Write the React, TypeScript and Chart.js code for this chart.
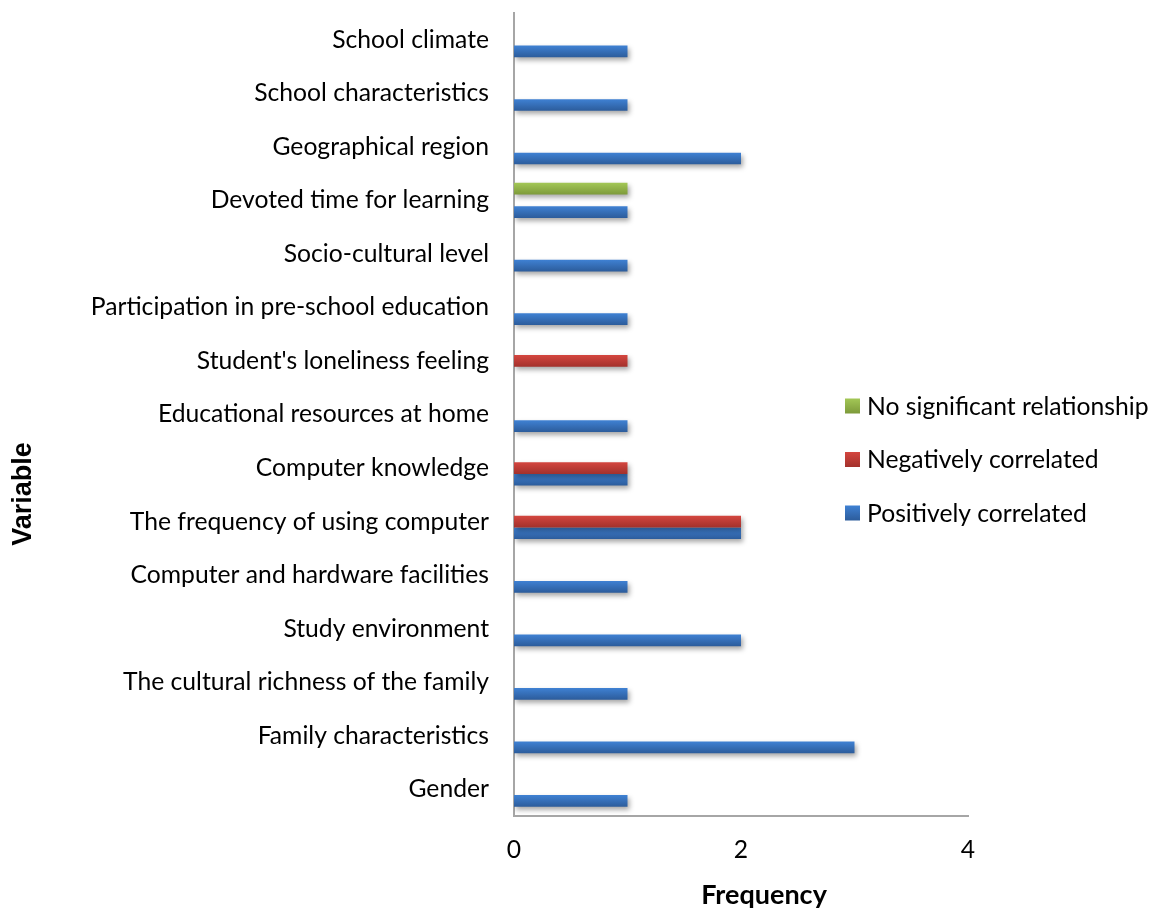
import { useEffect, useRef } from "react";
import { Chart, registerables } from "chart.js";

Chart.register(...registerables);

// Categories listed top to bottom
const categories = [
  "School climate",
  "School characteristics",
  "Geographical region",
  "Devoted time for learning",
  "Socio-cultural level",
  "Participation in pre-school education",
  "Student's loneliness feeling",
  "Educational resources at home",
  "Computer knowledge",
  "The frequency of using computer",
  "Computer and hardware facilities",
  "Study environment",
  "The cultural richness of the family",
  "Family characteristics",
  "Gender",
];

const noRelationship = [0, 0, 0, 1, 0, 0, 0, 0, 0, 0, 0, 0, 0, 0, 0];
const negativelyCorrelated = [0, 0, 0, 0, 0, 0, 1, 0, 1, 2, 0, 0, 0, 0, 0];
const positivelyCorrelated = [1, 1, 2, 1, 1, 1, 0, 1, 1, 2, 1, 2, 1, 3, 1];

const seriesNames = ["No significant relationship", "Negatively correlated", "Positively correlated"];
const xTickValues = [0, 2, 4];

// [top, bottom] gradient stops per series
const seriesColors: [string, string][] = [
  ["#a3c756", "#7d9a3a"],
  ["#d4463f", "#a3312c"],
  ["#3f81d3", "#2c5c9b"],
];

const FONT = "Lato";
const LABEL_SIZE = 24.7;
const CAT_PCT = 0.655;

function barGradient(top: string, bottom: string) {
  return (ctx: any) => {
    const chart = ctx.chart;
    const y = chart.scales && chart.scales.y;
    if (!y || ctx.type !== "data" || !chart.chartArea) return top;
    const center = y.getPixelForValue(ctx.dataIndex);
    const slot = y.height / categories.length;
    const n = chart.data.datasets.length;
    const thick = (slot * CAT_PCT) / n;
    const c = center + (ctx.datasetIndex - (n - 1) / 2) * thick;
    const g = chart.ctx.createLinearGradient(0, c - thick / 2, 0, c + thick / 2);
    g.addColorStop(0, top);
    g.addColorStop(1, bottom);
    return g;
  };
}

const barShadow = {
  id: "barShadow",
  beforeDatasetsDraw(chart: any) {
    const c = chart.ctx;
    c.save();
    c.shadowColor = "rgba(0,0,0,0.35)";
    c.shadowBlur = 5;
    c.shadowOffsetX = 2;
    c.shadowOffsetY = 3;
  },
  afterDatasetsDraw(chart: any) {
    chart.ctx.restore();
  },
};

// Axis titles and the legend block inside the plot
const decorations = {
  id: "decorations",
  afterDraw(chart: any) {
    const c = chart.ctx;
    const area = chart.chartArea;
    c.save();
    c.fillStyle = "#000";

    c.font = `bold 27px ${FONT}`;
    c.textAlign = "center";
    c.textBaseline = "middle";
    c.fillText("Frequency", (area.left + area.right) / 2 + 23, 895);

    c.save();
    c.translate(24, 494);
    c.rotate(-Math.PI / 2);
    c.font = "bold 27px 'Liberation Sans'";
    c.fillText("Variable", 0, 0);
    c.restore();

    const lx = area.right - 123;
    const ly0 = 406;
    const step = 53.5;
    c.textAlign = "left";
    c.font = `${LABEL_SIZE}px ${FONT}`;
    seriesNames.forEach((name, i) => {
      const cy = ly0 + i * step;
      const g = c.createLinearGradient(0, cy - 7.5, 0, cy + 7.5);
      g.addColorStop(0, seriesColors[i][0]);
      g.addColorStop(1, seriesColors[i][1]);
      c.fillStyle = g;
      c.fillRect(lx, cy - 7.5, 15, 15);
      c.fillStyle = "#000";
      c.fillText(name, lx + 22, cy + 1);
    });
    c.restore();
  },
};

export default function App() {
  const ref = useRef<HTMLCanvasElement>(null);

  useEffect(() => {
    const datasets = [noRelationship, negativelyCorrelated, positivelyCorrelated].map((data, i) => ({
      label: seriesNames[i],
      data,
      backgroundColor: barGradient(seriesColors[i][0], seriesColors[i][1]),
      borderWidth: 0,
      barPercentage: 1,
      categoryPercentage: CAT_PCT,
    }));

    const chart = new Chart(ref.current!, {
      type: "bar",
      data: { labels: categories, datasets },
      options: {
        indexAxis: "y",
        animation: false,
        responsive: true,
        maintainAspectRatio: false,
        layout: { padding: { top: 13, right: 183, bottom: 0, left: 0 } },
        plugins: {
          legend: { display: false },
          tooltip: { enabled: false },
        },
        scales: {
          x: {
            min: 0,
            max: 4,
            afterBuildTicks(scale: any) {
              scale.ticks = xTickValues.map((v) => ({ value: v }));
            },
            grid: { display: false, drawTicks: false },
            border: { display: true, color: "#a6a6a6", width: 2 },
            ticks: {
              color: "#000",
              font: { family: FONT, size: LABEL_SIZE },
              padding: 19,
            },
            afterFit(scale: any) {
              scale.height = 95;
              scale.paddingLeft = 0;
              scale.paddingRight = 0;
            },
          },
          y: {
            grid: { display: false, drawTicks: false },
            border: { display: true, color: "#a6a6a6", width: 2 },
            ticks: {
              color: "#000",
              font: { family: FONT, size: LABEL_SIZE },
              padding: 25,
            },
            afterFit(scale: any) {
              scale.width = 514;
              scale.paddingTop = 0;
              scale.paddingBottom = 0;
            },
          },
        },
      },
      plugins: [barShadow, decorations],
    } as any);

    return () => chart.destroy();
  }, []);

  return (
    <div style={{ position: "fixed", left: 0, top: 0, width: 1151, height: 911, background: "#fff" }}>
      <canvas ref={ref} />
    </div>
  );
}
